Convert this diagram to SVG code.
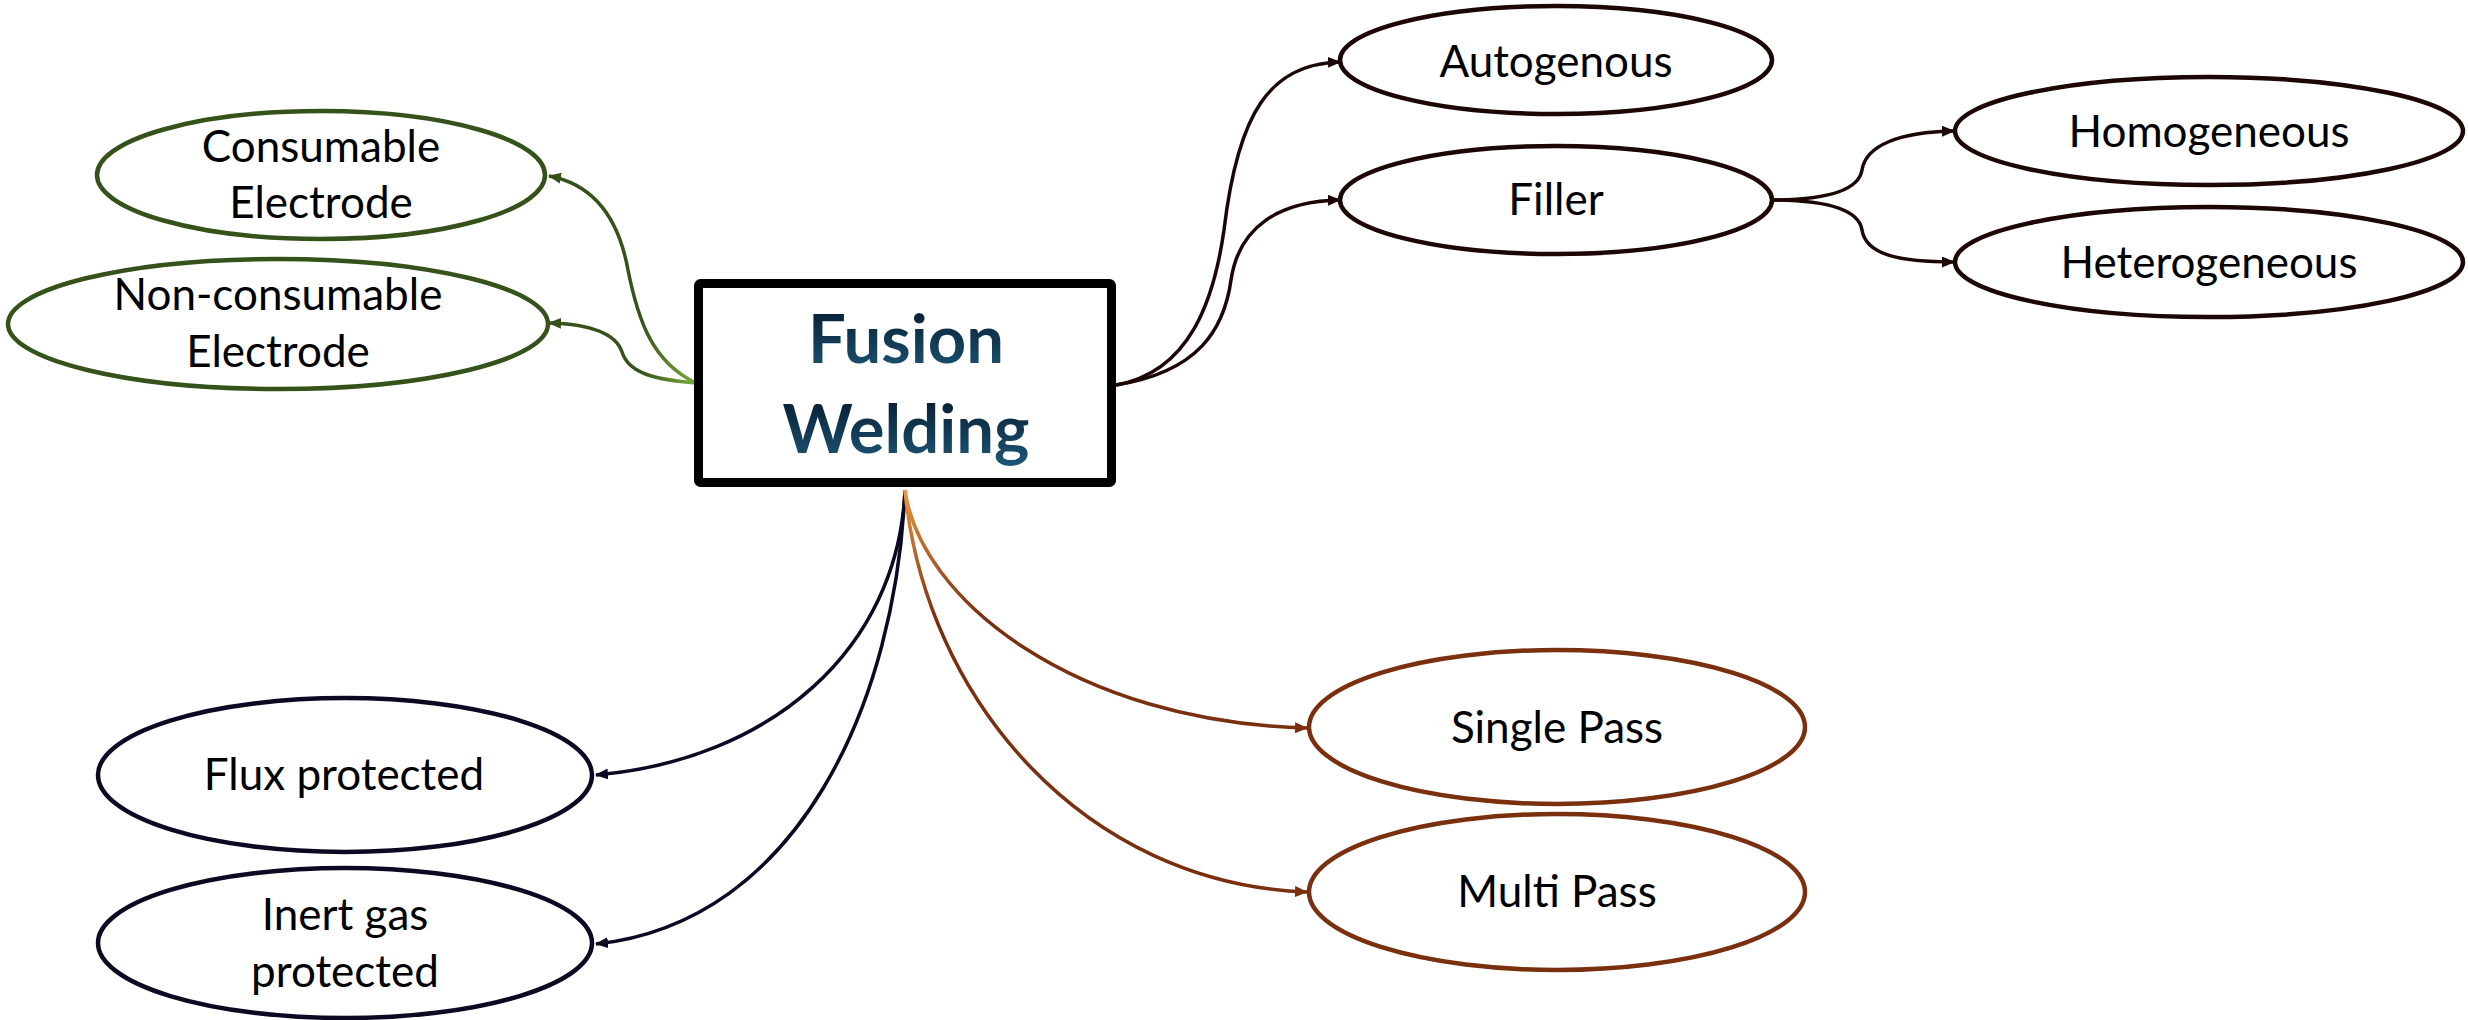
<svg xmlns="http://www.w3.org/2000/svg" width="2468" height="1020" viewBox="0 0 2468 1020">
<defs>
<style>
.node-label{font-family:Lato,"Liberation Sans",sans-serif;font-size:44px;fill:#000;text-anchor:middle}
.title{font-family:Lato,"Liberation Sans",sans-serif;font-size:67px;font-weight:bold;text-anchor:middle}
.el{fill:#fff;stroke-width:4.5}
.dk{stroke:#1c0606}
.gr{stroke:#34521a}
.nv{stroke:#0c0a22}
.br{stroke:#7a2f0e}
.c{fill:none;stroke-width:3.5}
</style>
<linearGradient id="tg" x1="0" y1="0" x2="0" y2="1">
<stop offset="0" stop-color="#041428"/>
<stop offset="1" stop-color="#1d5878"/>
</linearGradient>
<linearGradient id="ggr" gradientUnits="userSpaceOnUse" x1="696" y1="383" x2="640" y2="383">
<stop offset="0" stop-color="#7fae3c"/>
<stop offset="1" stop-color="#34521a"/>
</linearGradient>
<linearGradient id="gbr" gradientUnits="userSpaceOnUse" x1="0" y1="488" x2="0" y2="620">
<stop offset="0" stop-color="#ee9a44"/>
<stop offset="1" stop-color="#7a2f0e"/>
</linearGradient>
<marker id="ad" markerUnits="userSpaceOnUse" markerWidth="13" markerHeight="11" refX="12" refY="5.5" orient="auto"><path d="M0,0 L13,5.5 L0,11 z" fill="#1c0606"/></marker>
<marker id="ag" markerUnits="userSpaceOnUse" markerWidth="13" markerHeight="11" refX="12" refY="5.5" orient="auto"><path d="M0,0 L13,5.5 L0,11 z" fill="#34521a"/></marker>
<marker id="an" markerUnits="userSpaceOnUse" markerWidth="13" markerHeight="11" refX="12" refY="5.5" orient="auto"><path d="M0,0 L13,5.5 L0,11 z" fill="#0c0a22"/></marker>
<marker id="ab" markerUnits="userSpaceOnUse" markerWidth="13" markerHeight="11" refX="12" refY="5.5" orient="auto"><path d="M0,0 L13,5.5 L0,11 z" fill="#7a2f0e"/></marker>
</defs>
<rect width="2468" height="1020" fill="#fff"/>

<g id="connectors">
<path class="c" stroke="url(#ggr)" marker-end="url(#ag)" d="M696,383 C652,362 638,320 628,270 C618,215 592,184 549,176"/>
<path class="c" stroke="url(#ggr)" marker-end="url(#ag)" d="M696,383 C660,380 629,375 622,352 C615,331 586,324 549,323"/>
<path class="c dk" marker-end="url(#ad)" d="M1116,385 C1190,372 1214,300 1224,230 C1238,112 1270,64 1340,62"/>
<path class="c dk" marker-end="url(#ad)" d="M1116,385 C1198,372 1224,330 1231,280 C1239,226 1280,201 1340,200"/>
<path class="c dk" marker-end="url(#ad)" d="M1770,200 C1812,200 1858,195 1862,170 C1866,145 1900,132 1954,131"/>
<path class="c dk" marker-end="url(#ad)" d="M1770,200 C1812,200 1858,205 1862,230 C1866,255 1900,262 1954,262"/>
<path class="c nv" marker-end="url(#an)" d="M905,490 C898,650 770,760 596,775"/>
<path class="c nv" marker-end="url(#an)" d="M905,490 C896,700 800,922 596,944"/>
<path class="c" stroke="url(#gbr)" marker-end="url(#ab)" d="M905,490 C920,600 1075,722 1307,728"/>
<path class="c" stroke="url(#gbr)" marker-end="url(#ab)" d="M905,490 C925,700 1085,884 1307,892"/>
</g>

<g id="fusion-welding">
<rect x="698.5" y="283.5" width="413" height="199" rx="2" fill="#fff" stroke="#000" stroke-width="9"/>
<text class="title" x="906" y="363" fill="url(#tg)">Fusion</text>
<text class="title" x="906" y="453" fill="url(#tg)">Welding</text>
</g>

<g id="consumable-electrode">
<ellipse class="el gr" cx="321" cy="175" rx="224" ry="64"/>
<text class="node-label" x="321" y="162">Consumable</text>
<text class="node-label" x="321" y="218">Electrode</text>
</g>
<g id="non-consumable-electrode">
<ellipse class="el gr" cx="278" cy="324" rx="270" ry="65"/>
<text class="node-label" x="278" y="310">Non-consumable</text>
<text class="node-label" x="278" y="367">Electrode</text>
</g>

<g id="autogenous">
<ellipse class="el dk" cx="1556" cy="60" rx="216" ry="54"/>
<text class="node-label" x="1556" y="77">Autogenous</text>
</g>
<g id="filler">
<ellipse class="el dk" cx="1556" cy="200" rx="216" ry="54"/>
<text class="node-label" x="1556" y="215">Filler</text>
</g>
<g id="homogeneous">
<ellipse class="el dk" cx="2209" cy="131" rx="254" ry="54"/>
<text class="node-label" x="2209" y="147">Homogeneous</text>
</g>
<g id="heterogeneous">
<ellipse class="el dk" cx="2209" cy="262" rx="254" ry="55"/>
<text class="node-label" x="2209" y="278">Heterogeneous</text>
</g>

<g id="flux-protected">
<ellipse class="el nv" cx="345" cy="775" rx="247" ry="77"/>
<text class="node-label" x="344" y="790">Flux protected</text>
</g>
<g id="inert-gas-protected">
<ellipse class="el nv" cx="345" cy="943" rx="247" ry="75"/>
<text class="node-label" x="345" y="930">Inert gas</text>
<text class="node-label" x="345" y="987">protected</text>
</g>

<g id="single-pass">
<ellipse class="el br" cx="1557" cy="727" rx="248" ry="77"/>
<text class="node-label" x="1557" y="743">Single Pass</text>
</g>
<g id="multi-pass">
<ellipse class="el br" cx="1557" cy="892" rx="248" ry="78"/>
<text class="node-label" x="1557" y="907">Multi Pass</text>
</g>
</svg>
